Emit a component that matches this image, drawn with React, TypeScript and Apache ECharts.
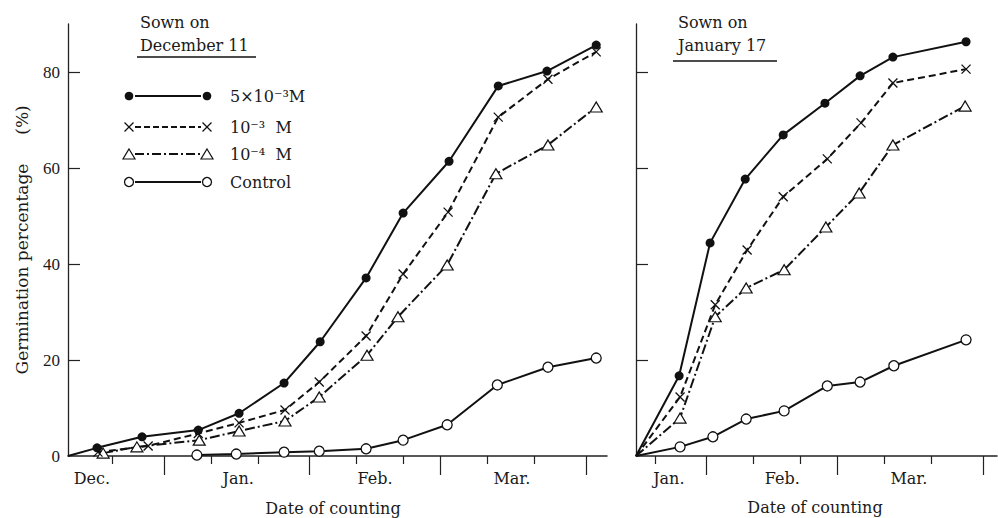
import React, { useEffect, useRef } from "react";
import * as echarts from "echarts";

// x values are days counted from January 1 (0 = Jan 1, negative = December)
const leftStrongDays = [-20.5, -14.3, -4.7, 7.3, 16.0, 25.6, 33.3, 43.1, 51.0, 60.8, 71.3, 81.7, 92.2];
const leftStrongVals = [0, 1.7, 4.0, 5.4, 8.9, 15.2, 23.8, 37.1, 50.6, 61.4, 77.1, 80.2, 85.6];
const leftMidDays = [-14.1, -3.4, 7.3, 16.0, 25.8, 33.1, 43.1, 51.0, 60.6, 71.3, 81.9, 92.2];
const leftMidVals = [0.8, 2.1, 4.7, 6.9, 9.6, 15.4, 25.0, 37.9, 50.8, 70.6, 78.5, 84.2];
const leftWeakDays = [-13.0, -5.8, 7.5, 16.0, 25.8, 33.1, 43.3, 49.9, 60.4, 70.8, 81.9, 92.2];
const leftWeakVals = [0.6, 1.9, 3.3, 5.2, 7.3, 12.3, 21.0, 29.0, 39.8, 58.8, 64.8, 72.7];
const leftCtrlDays = [7.0, 15.4, 25.6, 33.1, 43.1, 51.0, 60.4, 71.1, 81.9, 92.2];
const leftCtrlVals = [0.2, 0.4, 0.8, 1.0, 1.5, 3.3, 6.5, 14.8, 18.5, 20.4];

const rightStrongDays = [16, 25.2, 31.8, 39.3, 47.4, 56.3, 63.8, 70.8, 86.4];
const rightStrongVals = [0, 16.7, 44.4, 57.7, 66.9, 73.5, 79.2, 83.1, 86.3];
const rightMidDays = [16, 25.4, 32.9, 39.7, 47.4, 56.8, 64.0, 70.8, 86.4];
const rightMidVals = [0, 12.3, 31.5, 42.9, 54.0, 61.9, 69.4, 77.7, 80.6];
const rightWeakDays = [16, 25.4, 32.9, 39.5, 47.6, 56.5, 63.6, 70.8, 86.2];
const rightWeakVals = [0, 7.9, 29.0, 35.0, 38.8, 47.7, 54.8, 64.8, 72.9];
const rightCtrlDays = [16, 25.4, 32.4, 39.5, 47.6, 56.8, 63.8, 71.0, 86.4];
const rightCtrlVals = [0, 1.9, 4.0, 7.7, 9.4, 14.6, 15.4, 18.8, 24.2];

const leftMinorTicks = [-11, 10, 20, 41, 51, 69, 79];
const leftMajorTicks = [0, 31, 59, 90];
const rightMinorTicks = [20, 41, 51, 69, 79];
const rightMajorTicks = [31, 59, 90];
const leftMonthPos = [-15.4, 15.8, 45, 74.2];
const leftMonths = ["Dec.", "Jan.", "Feb.", "Mar."];
const rightMonthPos = [23, 47.2, 74.2];
const rightMonths = ["Jan.", "Feb.", "Mar."];
const yLabelValues = [0, 20, 40, 60, 80];
const yTickValues = [20, 40, 60, 80];

const legendNames = ["5×10⁻³M", "10⁻³  M", "10⁻⁴  M", "Control"];

const INK = "#111";
const SERIF = '"DejaVu Serif", "Liberation Serif", serif';
const NUMF = '"Liberation Serif", serif';

const crossPath = "path://M0,0L10,10M10,0L0,10";

type Kind = "strong" | "mid" | "weak" | "ctrl";

function styleFor(kind: Kind) {
  if (kind === "strong")
    return {
      symbol: "circle",
      symbolSize: 9,
      itemStyle: { color: INK, borderColor: INK, borderWidth: 0 },
      lineStyle: { color: INK, width: 2, type: "solid" as any },
    };
  if (kind === "mid")
    return {
      symbol: crossPath,
      symbolSize: 9,
      itemStyle: { color: INK, borderColor: INK, borderWidth: 1.3 },
      lineStyle: { color: INK, width: 2, type: [7, 4] as any },
    };
  if (kind === "weak")
    return {
      symbol: "triangle",
      symbolSize: [12, 10],
      itemStyle: { color: "#fff", borderColor: INK, borderWidth: 1.2 },
      lineStyle: { color: INK, width: 2, type: [10, 3, 2, 3] as any },
    };
  return {
    symbol: "circle",
    symbolSize: 10,
    itemStyle: { color: "#fff", borderColor: INK, borderWidth: 1.3 },
    lineStyle: { color: INK, width: 2, type: "solid" as any },
  };
}

function makeSeries(name: string, days: number[], vals: number[], xi: number, yi: number, kind: Kind) {
  const s = styleFor(kind);
  return {
    name,
    type: "line",
    xAxisIndex: xi,
    yAxisIndex: yi,
    clip: false,
    ...s,
    showSymbol: true,
    data: days.map((d, i) => {
      const item: any = { value: [d, vals[i]] };
      if (vals[i] === 0) item.symbol = "none";
      return item;
    }),
  };
}

function xAxesFor(gridIndex: number, min: number, max: number, minor: number[], major: number[], monthPos: number[], months: string[]) {
  return [
    {
      type: "value",
      gridIndex,
      position: "bottom",
      min,
      max,
      axisLine: { show: true, onZero: false, lineStyle: { color: "#222", width: 1.5 } },
      axisTick: { show: true, customValues: minor, length: 8, lineStyle: { color: "#222", width: 1.2 } },
      axisLabel: {
        show: true,
        customValues: monthPos,
        margin: 14,
        color: "#1a1a1a",
        fontFamily: SERIF,
        fontSize: 16,
        formatter: (v: number) => {
          let best = 0;
          for (let i = 1; i < monthPos.length; i++) {
            if (Math.abs(monthPos[i] - v) < Math.abs(monthPos[best] - v)) best = i;
          }
          return months[best];
        },
      },
      splitLine: { show: false },
    },
    {
      type: "value",
      gridIndex,
      position: "bottom",
      min,
      max,
      axisLine: { show: false, onZero: false },
      axisTick: { show: true, customValues: major, length: 19, lineStyle: { color: "#222", width: 1.2 } },
      axisLabel: { show: false },
      splitLine: { show: false },
    },
  ];
}

function yAxisFor(gridIndex: number, showLabels: boolean) {
  return {
    type: "value",
    gridIndex,
    min: 0,
    max: 90,
    axisLine: { show: true, onZero: false, lineStyle: { color: "#222", width: 1.3 } },
    axisTick: { show: true, inside: true, customValues: yTickValues, length: 12, lineStyle: { color: "#222", width: 1.2 } },
    axisLabel: {
      show: showLabels,
      customValues: yLabelValues,
      margin: 8,
      color: "#1a1a1a",
      fontFamily: NUMF,
      fontSize: 17,
    },
    splitLine: { show: false },
  };
}

function legendGraphics() {
  const rows = [96, 127, 154, 182];
  const kinds: Kind[] = ["strong", "mid", "weak", "ctrl"];
  const x1 = 129;
  const x2 = 207;
  const els: any[] = [];
  rows.forEach((y, i) => {
    const kind = kinds[i];
    const dash = kind === "mid" ? [6, 3] : kind === "weak" ? [9, 3, 2, 3] : undefined;
    els.push({
      type: "line",
      shape: { x1: x1 + 6, y1: y, x2: x2 - 6, y2: y },
      style: { stroke: INK, lineWidth: 2, lineDash: dash },
      z: 10,
    });
    [x1, x2].forEach((cx) => {
      if (kind === "strong") {
        els.push({ type: "circle", shape: { cx, cy: y, r: 4.3 }, style: { fill: INK }, z: 11 });
      } else if (kind === "ctrl") {
        els.push({ type: "circle", shape: { cx, cy: y, r: 4.5 }, style: { fill: "#fff", stroke: INK, lineWidth: 1.3 }, z: 11 });
      } else if (kind === "weak") {
        els.push({
          type: "polygon",
          shape: { points: [[cx, y - 5], [cx + 6, y + 5], [cx - 6, y + 5]] },
          style: { fill: "#fff", stroke: INK, lineWidth: 1.2 },
          z: 11,
        });
      } else {
        els.push({ type: "line", shape: { x1: cx - 4.5, y1: y - 4.5, x2: cx + 4.5, y2: y + 4.5 }, style: { stroke: INK, lineWidth: 1.3 }, z: 11 });
        els.push({ type: "line", shape: { x1: cx - 4.5, y1: y + 4.5, x2: cx + 4.5, y2: y - 4.5 }, style: { stroke: INK, lineWidth: 1.3 }, z: 11 });
      }
    });
    els.push({
      type: "text",
      x: 230,
      y,
      style: {
        text: legendNames[i],
        fill: "#1a1a1a",
        font: `16px ${SERIF}`,
        textAlign: "left",
        align: "left",
        textVerticalAlign: "middle",
        verticalAlign: "middle",
      },
      z: 11,
    });
  });
  return els;
}

function textEl(text: string, x: number, y: number, size: number, align: string, rotation = 0) {
  return {
    type: "text",
    x,
    y,
    rotation,
    style: {
      text,
      fill: "#1a1a1a",
      font: `${size}px ${SERIF}`,
      textAlign: align,
      align,
      textVerticalAlign: "middle",
      verticalAlign: "middle",
    },
    z: 12,
  };
}

export default function App() {
  const ref = useRef<HTMLDivElement>(null);
  useEffect(() => {
    if (!ref.current) return;
    const chart = echarts.init(ref.current, undefined, { renderer: "svg" });
    const option: any = {
      animation: false,
      backgroundColor: "#fff",
      grid: [
        { left: 68, top: 24, width: 539, height: 432 },
        { left: 636, top: 24, width: 361, height: 432 },
      ],
      xAxis: [
        ...xAxesFor(0, -20.5, 94.5, leftMinorTicks, leftMajorTicks, leftMonthPos, leftMonths),
        ...xAxesFor(1, 16, 93.0, rightMinorTicks, rightMajorTicks, rightMonthPos, rightMonths),
      ],
      yAxis: [yAxisFor(0, true), yAxisFor(1, false)],
      series: [
        makeSeries(legendNames[3], leftCtrlDays, leftCtrlVals, 0, 0, "ctrl"),
        makeSeries(legendNames[2], leftWeakDays, leftWeakVals, 0, 0, "weak"),
        makeSeries(legendNames[1], leftMidDays, leftMidVals, 0, 0, "mid"),
        makeSeries(legendNames[0], leftStrongDays, leftStrongVals, 0, 0, "strong"),
        makeSeries(legendNames[3], rightCtrlDays, rightCtrlVals, 2, 1, "ctrl"),
        makeSeries(legendNames[2], rightWeakDays, rightWeakVals, 2, 1, "weak"),
        makeSeries(legendNames[1], rightMidDays, rightMidVals, 2, 1, "mid"),
        makeSeries(legendNames[0], rightStrongDays, rightStrongVals, 2, 1, "strong"),
      ],
      graphic: [
        textEl("Sown on", 140, 22, 16, "left"),
        textEl("December 11", 140, 45, 16, "left"),
        { type: "line", shape: { x1: 137, y1: 57, x2: 256, y2: 57 }, style: { stroke: INK, lineWidth: 1.4 }, z: 12 },
        textEl("Sown on", 678, 22, 16, "left"),
        textEl("January 17", 678, 45, 16, "left"),
        { type: "line", shape: { x1: 673, y1: 61, x2: 777, y2: 61 }, style: { stroke: INK, lineWidth: 1.4 }, z: 12 },
        textEl("Germination percentage", 22, 269, 17, "center", Math.PI / 2),
        textEl("(%)", 22, 120, 17, "center", Math.PI / 2),
        textEl("Date of counting", 333, 508, 16, "center"),
        textEl("Date of counting", 815, 507, 16, "center"),
        ...legendGraphics(),
      ],
    };
    chart.setOption(option);
    return () => chart.dispose();
  }, []);
  return (
    <div
      ref={ref}
      style={{ position: "fixed", left: 0, top: 0, width: 998, height: 518, background: "#fff" }}
    />
  );
}
